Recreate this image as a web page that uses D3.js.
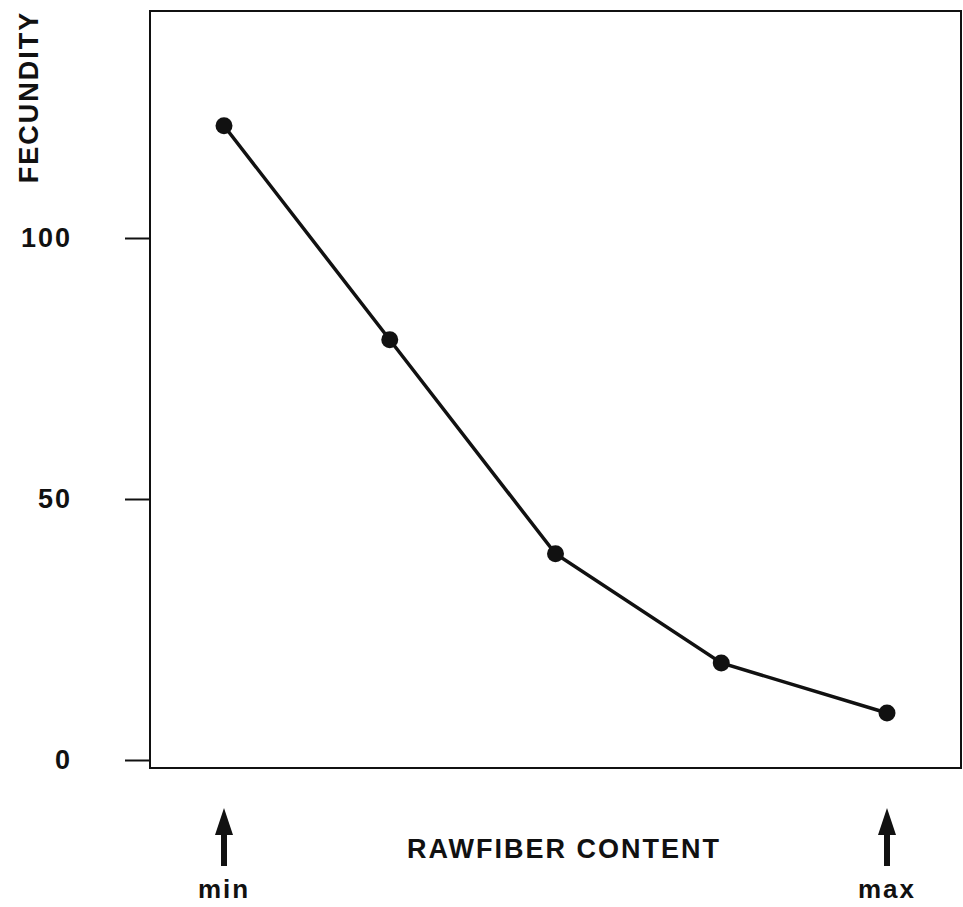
<!doctype html>
<html>
<head>
  <script src="https://cdnjs.cloudflare.com/ajax/libs/d3/7.8.5/d3.min.js"></script>
  <style>
    body { margin: 0; background: #fff; }
    text { font-family: "Liberation Sans", Arial, sans-serif; font-weight: bold; fill: #111; letter-spacing: 2px; }
  </style>
</head>
<body>
  <svg id="chart" width="963" height="907"></svg>
  <script>
    // fibre level steps, min .. max
    var steps = [0, 1, 2, 3, 4];
    var fecundity = [121.5, 80.5, 39.5, 18.6, 9.0];
    var yTicks = [0, 50, 100];
    var endLabels = ["min", "max"];

    var svg = d3.select("#chart");

    var x = d3.scaleLinear().domain([0, 4]).range([224, 887]);
    var y = d3.scaleLinear().domain([0, 100]).range([760, 238]);

    // frame
    svg.append("rect")
      .attr("x", 150).attr("y", 11)
      .attr("width", 811).attr("height", 757)
      .attr("fill", "none")
      .attr("stroke", "#111")
      .attr("stroke-width", 2);

    var yAxis = d3.axisLeft(y)
      .tickValues(yTicks)
      .tickSize(25)
      .tickPadding(53);

    var g = svg.append("g")
      .attr("transform", "translate(150,0)")
      .call(yAxis);
    g.select(".domain").remove();
    g.selectAll(".tick line").attr("stroke", "#111").attr("stroke-width", 2);
    g.selectAll(".tick text")
      .attr("font-size", 27)
      .attr("font-family", "Liberation Sans, Arial, sans-serif")
      .attr("font-weight", "bold")
      .attr("fill", "#111");

    svg.append("text")
      .attr("transform", "translate(38,97) rotate(-90)")
      .attr("text-anchor", "middle")
      .attr("font-size", 27)
      .text("FECUNDITY");

    var line = d3.line()
      .x(function (d, i) { return x(steps[i]); })
      .y(function (d) { return y(d); });

    svg.append("path")
      .datum(fecundity)
      .attr("d", line)
      .attr("fill", "none")
      .attr("stroke", "#111")
      .attr("stroke-width", 3.5);

    svg.selectAll("circle")
      .data(fecundity)
      .enter()
      .append("circle")
      .attr("cx", function (d, i) { return x(steps[i]); })
      .attr("cy", function (d) { return y(d); })
      .attr("r", 8.5)
      .attr("fill", "#111");

    svg.append("text")
      .attr("x", 564).attr("y", 858)
      .attr("text-anchor", "middle")
      .attr("font-size", 27)
      .text("RAWFIBER CONTENT");

    // arrows at both ends of the fibre axis
    var ends = [steps[0], steps[steps.length - 1]];
    var arrow = svg.selectAll(".arrow")
      .data(ends)
      .enter()
      .append("g")
      .attr("class", "arrow")
      .attr("transform", function (d) { return "translate(" + x(d) + ",0)"; });

    arrow.append("line")
      .attr("x1", 0).attr("x2", 0)
      .attr("y1", 828).attr("y2", 866)
      .attr("stroke", "#111")
      .attr("stroke-width", 6);
    arrow.append("path")
      .attr("d", "M0,808 L-9,835 L9,835 Z")
      .attr("fill", "#111");
    arrow.append("text")
      .attr("y", 898)
      .attr("text-anchor", "middle")
      .attr("font-size", 26)
      .text(function (d, i) { return endLabels[i]; });
  </script>
</body>
</html>
